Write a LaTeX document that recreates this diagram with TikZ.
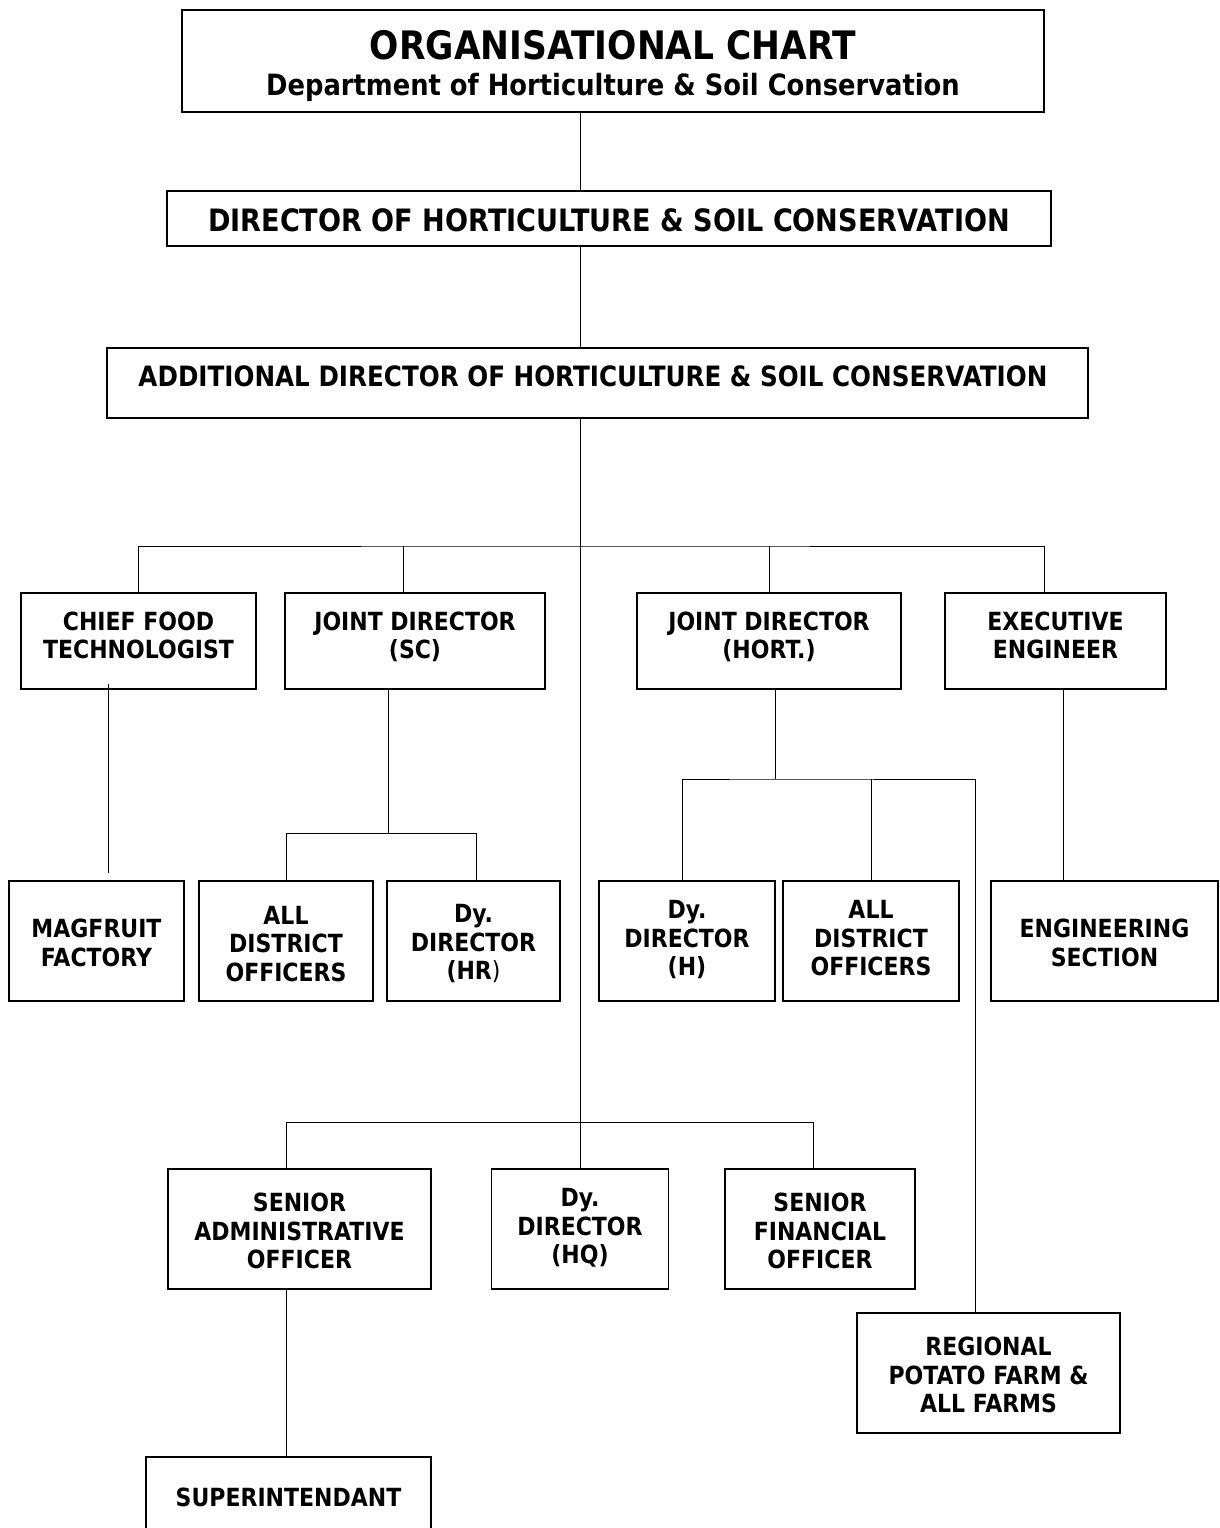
\documentclass[tikz,border=0pt]{standalone}
\usepackage{fontspec}
\setmainfont{DejaVu Sans}[FakeStretch=0.88]
\newcommand\uplift[1]{\rule[-#1]{0pt}{#1}}
\newcommand\dnlift[1]{\rule{0pt}{#1}}
\tikzset{
	post/.style={draw, line width=1.8pt, align=center, inner sep=0pt,
		font=\bfseries\fontsize{25}{28.5}\selectfont},
	wh/.style 2 args={minimum width=#1pt, minimum height=#2pt},
	link/.style={line width=1pt},
}
\begin{document}
\begin{tikzpicture}[x=1pt,y=-1pt]
	\fill[white] (0,0) rectangle (1219,1528);
	\useasboundingbox (0,0) rectangle (1219,1528);
	% top of the chart
	\node[post, wh={862}{102}, font=\bfseries\fontsize{29.3}{36}\selectfont] (title) at (613,61)
		{{\fontsize{39.2}{40}\selectfont\dnlift{38.6pt}ORGANISATIONAL CHART}\\Department of Horticulture \& Soil Conservation};
	\node[post, wh={884}{55}, font=\bfseries\fontsize{30.8}{34}\selectfont] (director) at (609,218.5)
		{\dnlift{25.5pt}DIRECTOR OF HORTICULTURE \& SOIL CONSERVATION};
	\node[post, wh={981}{70}, font=\bfseries\fontsize{28}{32}\selectfont] (adddir) at (597.5,383)
		{ADDITIONAL DIRECTOR OF HORTICULTURE \& SOIL CONSERVATION\hspace{9pt}\uplift{13pt}};
	% second level
	\node[post, wh={235}{96}] (cft) at (138.5,641) {CHIEF FOOD\\TECHNOLOGIST\uplift{12pt}};
	\node[post, wh={260}{96}] (jdsc) at (415,641) {JOINT DIRECTOR\\(SC)\uplift{12pt}};
	\node[post, wh={264}{96}] (jdh) at (769,641) {JOINT DIRECTOR\\(HORT.)\uplift{12pt}};
	\node[post, wh={221}{96}] (ee) at (1055.5,641) {EXECUTIVE\\ENGINEER\uplift{12pt}};
	% third level
	\node[post, wh={175}{120}] (magfruit) at (96.5,941) {\dnlift{22.2pt}MAGFRUIT\\FACTORY};
	\node[post, wh={174}{120}] (adosc) at (286,941) {\dnlift{24.2pt}ALL\\DISTRICT\\OFFICERS};
	\node[post, wh={173}{120}] (dyhr) at (473.5,941) {\dnlift{24.2pt}Dy.\\DIRECTOR\\(HR\textmd{)}};
	\node[post, wh={176}{120}] (dyh) at (687,941) {\dnlift{20.2pt}Dy.\\DIRECTOR\\(H)\uplift{8pt}};
	\node[post, wh={176}{120}] (adoh) at (871,941) {\dnlift{20.2pt}ALL\\DISTRICT\\OFFICERS\uplift{8pt}};
	\node[post, wh={227}{120}] (engsec) at (1104.5,941) {\dnlift{22.2pt}ENGINEERING\\SECTION};
	% headquarters
	\node[post, wh={263}{120}] (sao) at (299.5,1229) {\dnlift{23.2pt}SENIOR\\ADMINISTRATIVE\\OFFICER};
	\node[post, wh={177}{120}] (dyhq) at (580,1229) {Dy.\\DIRECTOR\\(HQ)\uplift{6pt}};
	\node[post, wh={190}{120}] (sfo) at (820,1229) {\dnlift{23.2pt}SENIOR\\FINANCIAL\\OFFICER};
	\node[post, wh={263}{120}] (rpf) at (988.5,1373) {\dnlift{23.2pt}REGIONAL\\POTATO FARM \&\\ALL FARMS};
	\node[post, wh={285}{80}] (supt) at (288.5,1497) {SUPERINTENDANT};
	% bus points
	\coordinate (tb) at (580,546);
	\coordinate (scb) at (388,833);
	\coordinate (hb) at (775,779);
	\coordinate (bb) at (580,1122);
	% connectors
	\draw[link] (title.south -| dyhq) -- (director.north -| dyhq);
	\draw[link] (director.south -| dyhq) -- (adddir.north -| dyhq);
	\draw[link] (adddir.south -| dyhq) -- (dyhq.north);
	\draw[link] (cft.north) |- (tb) -| ([xshift=-11.5pt]ee.north);
	\draw[link] ([xshift=-12pt]jdsc.north) -- ([xshift=-12pt]jdsc.north |- tb);
	\draw[link] (jdh.north) -- (jdh.north |- tb);
	\draw[link] ([xshift=-30.5pt,yshift=6pt]cft.south) -- ([xshift=-30.5pt,yshift=7pt]cft.south |- magfruit.north);
	\draw[link] ([xshift=-27pt]jdsc.south) -- (scb);
	\draw[link] (adosc.north) |- (scb) -| ([xshift=2.5pt]dyhr.north);
	\draw[link] ([xshift=6pt]jdh.south) -- (hb);
	\draw[link] ([xshift=-5pt]dyh.north) |- (hb) -| ([xshift=-13.5pt]rpf.north);
	\draw[link] (adoh.north) -- (adoh.north |- hb);
	\draw[link] ([xshift=7.5pt]ee.south) -- ([xshift=7.5pt]ee.south |- engsec.north);
	\draw[link] ([xshift=-13.5pt]sao.north) |- (bb) -| ([xshift=-7pt]sfo.north);
	\draw[link] ([xshift=-13.5pt]sao.south) -- ([xshift=-13.5pt]sao.south |- supt.north);
\end{tikzpicture}
\end{document}
